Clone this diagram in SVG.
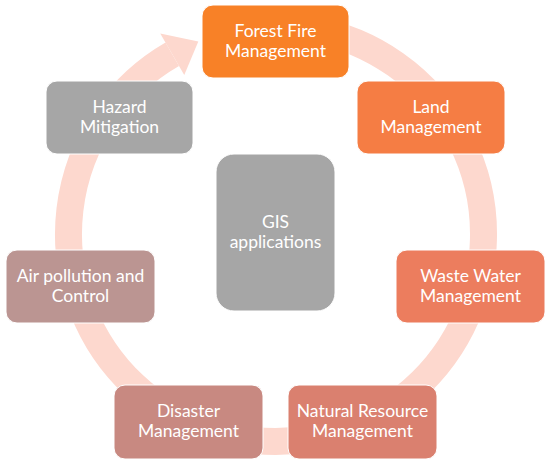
<svg xmlns="http://www.w3.org/2000/svg" width="550" height="468" viewBox="0 0 550 468">
<style>
.box{stroke:#ffffff;stroke-width:1}
.t{font-family:Lato,"Open Sans","Noto Sans",sans-serif;font-size:17.5px;fill:#ffffff;text-anchor:middle}
</style>
<rect width="550" height="468" fill="#ffffff"/>
<g id="connectors">
<path d="M312.03,29.65 A207.5,207.5 0 1 1 172.25,54.3" fill="none" stroke="#FDD8CE" stroke-width="27"/>
<polygon points="160.25,33.5 198.3,41.6 184.25,75.1" fill="#FDD8CE"/>
</g>
<g id="forest">
<rect class="box" x="202" y="5" width="147" height="73" rx="11" fill="#F88127"/>
<text class="t" x="275.5" y="37">Forest Fire</text>
<text class="t" x="275.5" y="57">Management</text>
</g>
<g id="land">
<rect class="box" x="357" y="81" width="148" height="73" rx="11" fill="#F57D44"/>
<text class="t" x="431" y="113">Land</text>
<text class="t" x="431" y="133">Management</text>
</g>
<g id="waste">
<rect class="box" x="396" y="250" width="149" height="73" rx="11" fill="#EC7D5E"/>
<text class="t" x="470.5" y="282">Waste Water</text>
<text class="t" x="470.5" y="302">Management</text>
</g>
<g id="natural">
<rect class="box" x="288" y="385" width="149" height="74" rx="11" fill="#DA806F"/>
<text class="t" x="362.5" y="417">Natural Resource</text>
<text class="t" x="362.5" y="437">Management</text>
</g>
<g id="disaster">
<rect class="box" x="114" y="385" width="149" height="74" rx="11" fill="#C88981"/>
<text class="t" x="188.5" y="417">Disaster</text>
<text class="t" x="188.5" y="437">Management</text>
</g>
<g id="air">
<rect class="box" x="6" y="250" width="149" height="73" rx="11" fill="#BB9592"/>
<text class="t" x="80.5" y="282">Air pollution and</text>
<text class="t" x="80.5" y="302">Control</text>
</g>
<g id="hazard">
<rect class="box" x="46" y="81" width="147" height="73" rx="11" fill="#A6A6A6"/>
<text class="t" x="119.5" y="113">Hazard</text>
<text class="t" x="119.5" y="133">Mitigation</text>
</g>
<g id="gis">
<rect class="box" x="216" y="154" width="119" height="157" rx="18" fill="#A6A6A6"/>
<text class="t" x="275.5" y="228">GIS</text>
<text class="t" x="275.5" y="248">applications</text>
</g>
</svg>
